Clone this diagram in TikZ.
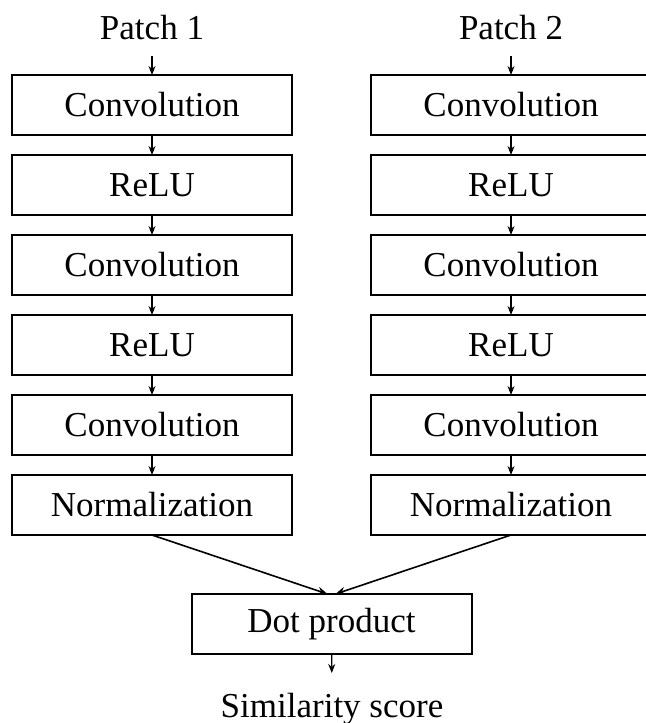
\documentclass[tikz,border=0pt]{standalone}
\usepackage{fontspec}
\setmainfont{Liberation Serif}
\usetikzlibrary{arrows.meta}
\begin{document}
\begin{tikzpicture}[x=0.5pt,y=-0.5pt,inner sep=0pt,outer sep=0pt,
	font=\fontsize{17.5}{21}\selectfont,
	layer/.style={draw,rectangle,minimum width=140pt,minimum height=30pt,line width=1pt},
	lbl/.style={inner sep=8pt},
	flow/.style={-{Stealth[length=4.5pt,width=3.5pt]},line width=0.6pt},
	merge/.style={-{Stealth[length=5pt,width=4pt]},line width=0.8pt}]
	\useasboundingbox (0,0) rectangle (645,723);
	\draw (152,56) node[lbl,anchor=south] (p1) {Patch 1};
	\draw (152,105) node[layer] (a1) {Convolution};
	\draw (152,185) node[layer] (a2) {ReLU};
	\draw (152,265) node[layer] (a3) {Convolution};
	\draw (152,345) node[layer] (a4) {ReLU};
	\draw (152,425) node[layer] (a5) {Convolution};
	\draw (152,505) node[layer] (a6) {Normalization};
	\draw (511,56) node[lbl,anchor=south] (p2) {Patch 2};
	\draw (511,105) node[layer] (b1) {Convolution};
	\draw (511,185) node[layer] (b2) {ReLU};
	\draw (511,265) node[layer] (b3) {Convolution};
	\draw (511,345) node[layer] (b4) {ReLU};
	\draw (511,425) node[layer] (b5) {Convolution};
	\draw (511,505) node[layer] (b6) {Normalization};
	\draw (331.5,624) node[layer] (dot) {Dot product};
	\draw (332,673) node[lbl,inner sep=10pt,anchor=north] (sim) {Similarity score};
	\draw[flow] (p1) -- (a1);
	\draw[flow] (a1) -- (a2);
	\draw[flow] (a2) -- (a3);
	\draw[flow] (a3) -- (a4);
	\draw[flow] (a4) -- (a5);
	\draw[flow] (a5) -- (a6);
	\draw[flow] (p2) -- (b1);
	\draw[flow] (b1) -- (b2);
	\draw[flow] (b2) -- (b3);
	\draw[flow] (b3) -- (b4);
	\draw[flow] (b4) -- (b5);
	\draw[flow] (b5) -- (b6);
	\draw[merge] (a6.south) -- ([xshift=-2pt]dot.north);
	\draw[merge] (b6.south) -- ([xshift=2pt]dot.north);
	\draw[flow] (dot) -- (sim);
\end{tikzpicture}
\end{document}
